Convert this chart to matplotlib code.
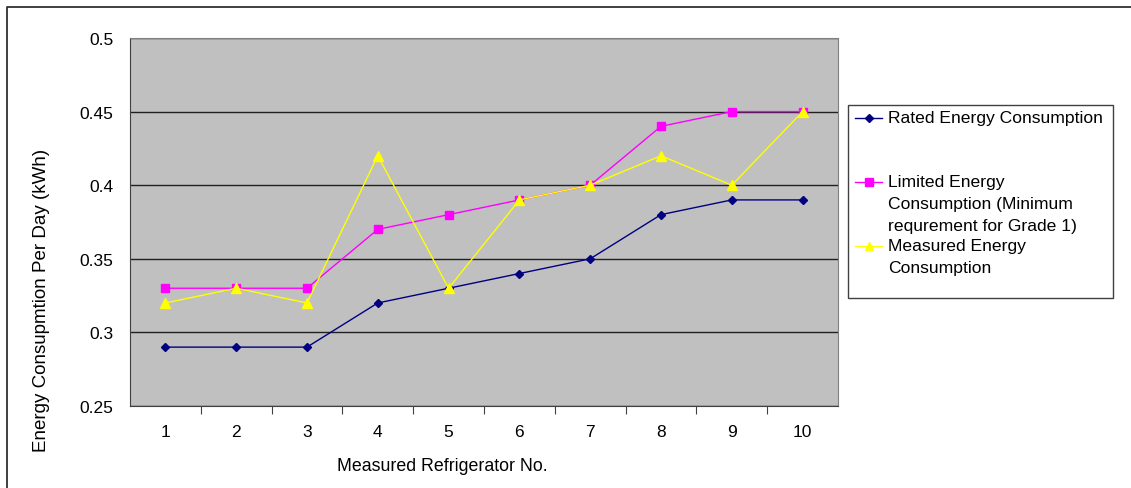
import matplotlib.pyplot as plt
from matplotlib.lines import Line2D
from matplotlib.patches import Rectangle

plt.rcParams['font.family'] = ['Liberation Sans', 'DejaVu Sans']

fridges = ['1', '2', '3', '4', '5', '6', '7', '8', '9', '10']
rated = [0.29, 0.29, 0.29, 0.32, 0.33, 0.34, 0.35, 0.38, 0.39, 0.39]
limited = [0.33, 0.33, 0.33, 0.37, 0.38, 0.39, 0.40, 0.44, 0.45, 0.45]
measured = [0.32, 0.33, 0.32, 0.42, 0.33, 0.39, 0.40, 0.42, 0.40, 0.45]
yticks = [0.25, 0.3, 0.35, 0.4, 0.45, 0.5]

W, H = 1131, 489
fig = plt.figure(figsize=(W/100, H/100), dpi=100)
ax = fig.add_axes([130/W, 82/H, 708/W, 368/H])
ax.set_facecolor('#c0c0c0')

x = list(range(len(fridges)))
series = [
	(rated, '#000080', 'D', 4.5, 'Rated Energy Consumption'),
	(limited, '#ff00ff', 's', 6, 'Limited Energy\nConsumption (Minimum\nrequrement for Grade 1)'),
	(measured, '#ffff00', '^', 6.5, 'Measured Energy\nConsumption'),
]
for vals, col, mk, ms, lab in series:
	ax.plot(x, vals, color=col, marker=mk, markersize=ms, linewidth=1, zorder=3)

ax.set_xlim(-0.5, len(fridges) - 0.5)
ax.set_ylim(0.25, 0.5)
ax.set_yticks(yticks)
ax.set_yticklabels(['0.25', '0.3', '0.35', '0.4', '0.45', '0.5'])
ax.yaxis.grid(True, color='#202020', linewidth=1)
ax.set_axisbelow(True)
ax.tick_params(axis='y', length=0, labelsize=12.5, pad=12)

# category ticks sit between the points, labels centred under them
ax.set_xticks([i + 0.5 for i in x[:-1]])
ax.set_xticklabels([])
ax.set_xticks(x, minor=True)
ax.set_xticklabels(fridges, minor=True)
ax.tick_params(axis='x', which='major', length=6, direction='out', color='#404040')
ax.tick_params(axis='x', which='minor', length=0, labelsize=12.5, pad=13)

for s in ax.spines.values():
	s.set_color('#808080')
ax.spines['left'].set_color('#404040')
ax.spines['bottom'].set_color('#404040')

fig.text(442/W, 1 - 467/H, 'Measured Refrigerator No.', ha='center', va='center', fontsize=12.8)
fig.text(42/W, 1 - 300/H, 'Energy Consupmtion Per Day (kWh)', ha='center', va='center',
		 rotation=90, fontsize=13.5)

# legend box drawn by hand
fig.patches.append(Rectangle((848/W, 1 - 299/H), 265/W, 193/H, transform=fig.transFigure,
							 facecolor='white', edgecolor='#404040', linewidth=1))
rows = [119, 183, 247]
for (vals, col, mk, ms, lab), ry in zip(series, rows):
	yy = 1 - ry/H
	fig.lines.append(Line2D([855/W, 882/W], [yy, yy], transform=fig.transFigure, color=col,
							linewidth=1))
	fig.lines.append(Line2D([868.5/W], [yy], transform=fig.transFigure, color=col, marker=mk,
							markersize=ms - 0.5))
	for k, part in enumerate(lab.split('\n')):
		fig.text(888/W, 1 - (ry + k*21.5)/H, part, ha='left', va='center', fontsize=12.6)

# outer frame
fig.lines.append(Line2D([7/W, 7/W, 1], [0, 1 - 8/H, 1 - 8/H], transform=fig.transFigure,
						color='#303030', linewidth=1.3))

fig.savefig('out.png', dpi=100)
